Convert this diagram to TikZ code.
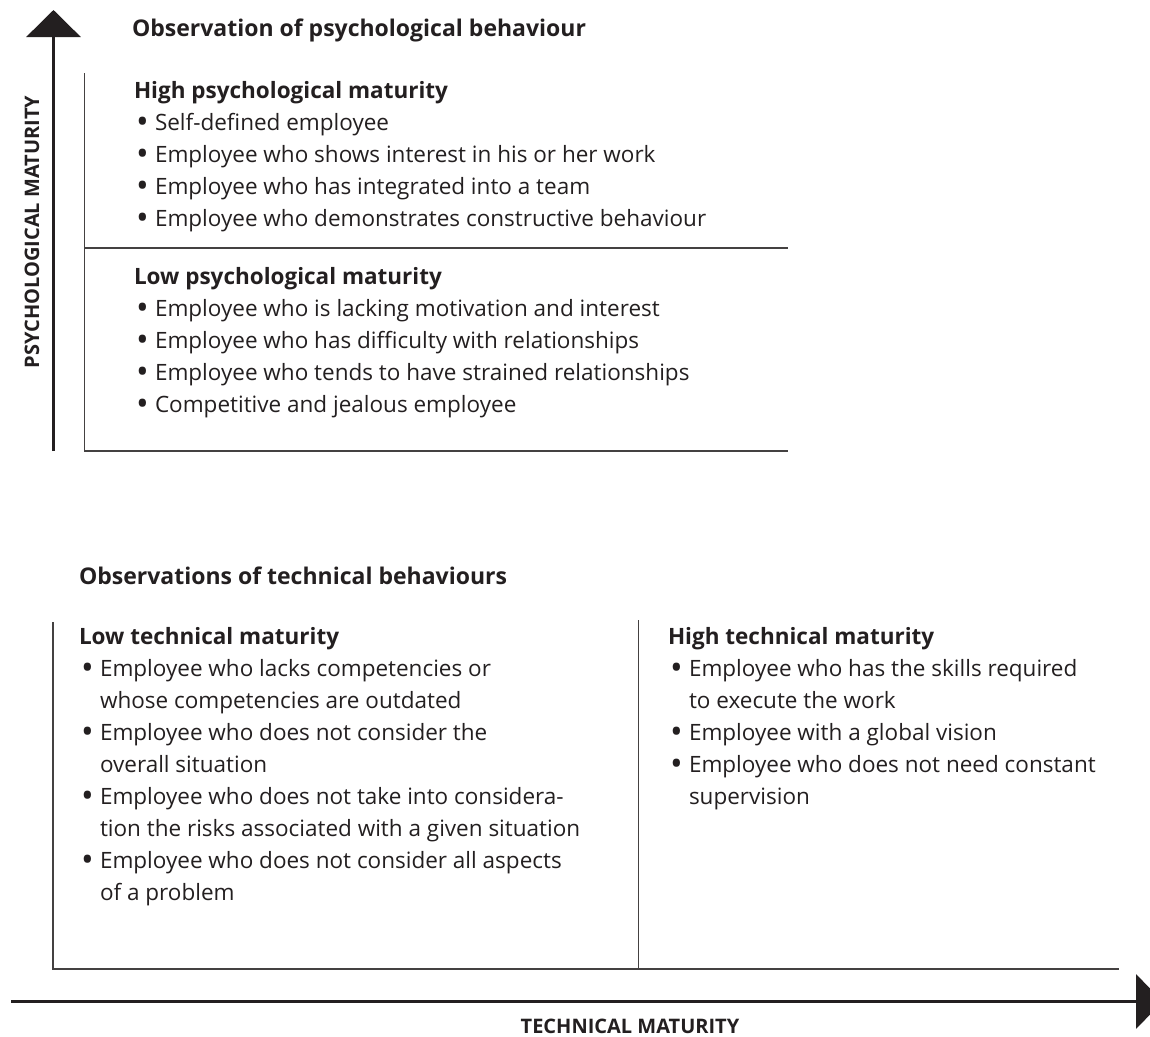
\documentclass[tikz,border=0pt]{standalone}
\usepackage{fontspec}
\setmainfont{Open Sans}
\usetikzlibrary{arrows.meta}
\definecolor{ink}{HTML}{231F20}
\newcommand{\blt}{\makebox[21pt][l]{\hspace{2pt}\raisebox{-3.5pt}{\scalebox{1.5}{\textbullet}}}}
\newcommand{\cnt}{\hspace*{21pt}}

\begin{document}
\begin{tikzpicture}[
    x=1pt, y=-1pt,
    every node/.style={inner sep=0pt, outer sep=0pt, text=ink},
    title/.style={anchor=base west, font=\fontsize{23}{32}\selectfont\bfseries},
    listing/.style={anchor=base west, align=left,
        font=\fontsize{22.5}{32}\selectfont},
    axislabel/.style={anchor=base, font=\fontsize{20}{24}\selectfont\bfseries},
    frame/.style={draw=ink!85, line width=1.3pt},
    axis/.style={draw=ink, line width=3.3pt,
        -{Triangle[width=54pt,length=27pt]}}
]
\useasboundingbox (0,0) rectangle (1150,1036);

% psychological part (listings sit on the baseline of their last line)
\node[title] (psytitle) at (132,36) {Observation of psychological behaviour};
\node[listing] (highpsy) at (134,226)
    {\textbf{High psychological maturity}\\
     \blt Self-defined employee\\
     \blt Employee who shows interest in his or her work\\
     \blt Employee who has integrated into a team\\
     \blt Employee who demonstrates constructive behaviour};
\node[listing] (lowpsy) at (134,412)
    {\textbf{Low psychological maturity}\\
     \blt Employee who is lacking motivation and interest\\
     \blt Employee who has difficulty with relationships\\
     \blt Employee who tends to have strained relationships\\
     \blt Competitive and jealous employee};

\coordinate (psyTop) at (84.5,73);
\coordinate (psyML)  at (84.5,248);
\coordinate (psyMR)  at (788,248);
\coordinate (psyBL)  at (84.5,451);
\coordinate (psyBR)  at (788,451);
\draw[frame] (psyTop) -- (psyBL) -- (psyBR);
\draw[frame] (psyML) -- (psyMR);

% technical part
\node[title] (techtitle) at (79,584) {Observations of technical behaviours};
\node[listing] (lowtech) at (79,900)
    {\textbf{Low technical maturity}\\
     \blt Employee who lacks competencies or\\
     \cnt whose competencies are outdated\\
     \blt Employee who does not consider the\\
     \cnt overall situation\\
     \blt Employee who does not take into considera-\\
     \cnt tion the risks associated with a given situation\\
     \blt Employee who does not consider all aspects\\
     \cnt of a problem};
\node[listing] (hightech) at (668,804)
    {\textbf{High technical maturity}\\
     \blt Employee who has the skills required\\
     \cnt to execute the work\\
     \blt Employee with a global vision\\
     \blt Employee who does not need constant\\
     \cnt supervision};

\coordinate (techTop)  at (53,622);
\coordinate (techBL)   at (53,969);
\coordinate (techBR)   at (1119,969);
\coordinate (techMidT) at (638.5,620);
\coordinate (techMidB) at (638.5,969);
\draw[frame] (techTop) -- (techBL) -- (techBR);
\draw[frame] (techMidT) -- (techMidB);

% axes
\coordinate (yStart) at (53.5,451);
\coordinate (yEnd)   at (53.5,10);
\coordinate (xStart) at (11,1001.5);
\coordinate (xEnd)   at (1163,1001.5);
\draw[axis] (yStart) -- (yEnd);
\draw[axis] (xStart) -- (xEnd);

\node[axislabel, rotate=90] (psylabel) at (39,232) {PSYCHOLOGICAL MATURITY};
\node[axislabel] (techlabel) at (630,1033) {TECHNICAL MATURITY};
\end{tikzpicture}
\end{document}
